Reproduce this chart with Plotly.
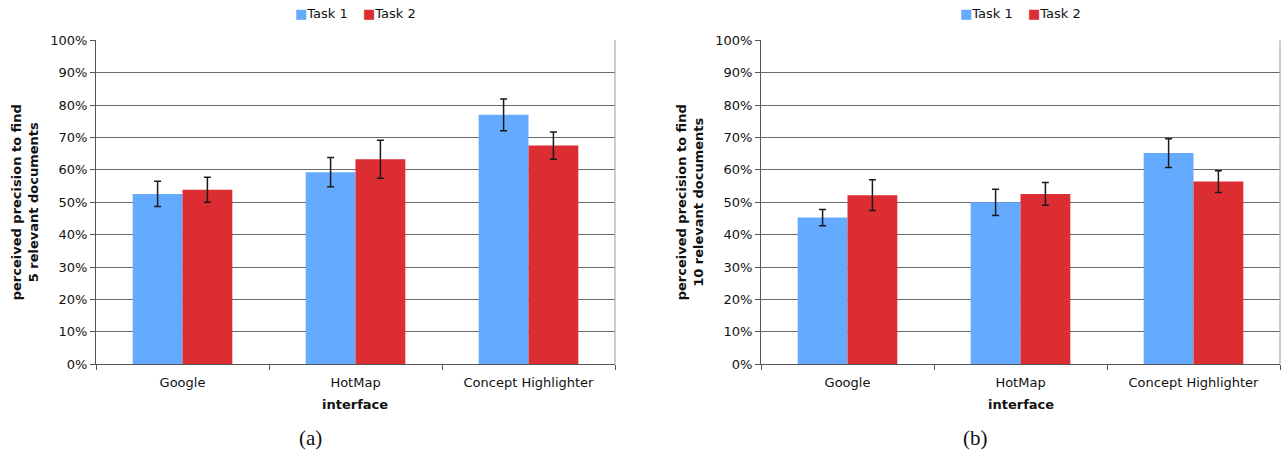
import plotly.graph_objects as go

# Interfaces compared and their perceived precision (%), with error-bar half widths
interfaces = ["Google", "HotMap", "Concept Highlighter"]

task1_5 = [52.6, 59.3, 77.0]
task1_5_err = [3.9, 4.5, 4.9]
task2_5 = [53.9, 63.3, 67.5]
task2_5_err = [3.85, 5.85, 4.2]

task1_10 = [45.3, 50.0, 65.2]
task1_10_err = [2.5, 4.05, 4.45]
task2_10 = [52.2, 52.6, 56.4]
task2_10_err = [4.75, 3.5, 3.35]

series_names = ["Task 1", "Task 2"]

y_ticks = list(range(0, 101, 10))
y_tick_text = [f"{v}%" for v in y_ticks]

BLUE = "#64AAFF"
RED = "#DC2D33"
FONT = "DejaVu Sans"
FS = 13

W, H = 1281, 457

fig = go.Figure()


def add_pair(xa, ya, t1, e1, t2, e2):
    for name, vals, errs, color in ((series_names[0], t1, e1, BLUE),
                                    (series_names[1], t2, e2, RED)):
        fig.add_trace(go.Bar(
            x=interfaces, y=vals, name=name, xaxis=xa, yaxis=ya, showlegend=False,
            marker=dict(color=color, line=dict(width=0)),
            error_y=dict(type="data", array=errs, visible=True,
                         color="#1a1a1a", thickness=1.5, width=3.5),
        ))


add_pair("x", "y", task1_5, task1_5_err, task2_5, task2_5_err)
add_pair("x2", "y2", task1_10, task1_10_err, task2_10, task2_10_err)

y_dom = [92.7 / H, 416.7 / H]
x1_dom = [96 / W, 615 / W]
x2_dom = [761 / W, 1280 / W]

xaxis_style = dict(
    type="category", showgrid=False, showline=True, linecolor="#555555", linewidth=1,
    ticks="outside", tickson="boundaries", ticklen=5, tickcolor="#555555",
    ticklabelstandoff=6,
    tickfont=dict(family=FONT, size=FS, color="#111111"), zeroline=False,
)
yaxis_style = dict(
    range=[0, 100], tickvals=y_ticks, ticktext=y_tick_text,
    showgrid=True, gridcolor="#6a6a6a", gridwidth=1,
    showline=True, linecolor="#555555", linewidth=1,
    ticks="outside", ticklen=5, tickcolor="#555555",
    tickfont=dict(family=FONT, size=FS, color="#111111"), zeroline=False,
)

fig.update_layout(
    width=W, height=H,
    margin=dict(l=0, r=0, t=0, b=0, autoexpand=False),
    paper_bgcolor="white", plot_bgcolor="white",
    barmode="group", bargap=0.424, bargroupgap=0,
    xaxis=dict(domain=x1_dom, anchor="y", **xaxis_style),
    yaxis=dict(domain=y_dom, anchor="x", **yaxis_style),
    xaxis2=dict(domain=x2_dom, anchor="y2", **xaxis_style),
    yaxis2=dict(domain=y_dom, anchor="x2", **yaxis_style),
)

# Light right-hand border of each plot area
for xr, yr in (("x domain", "y domain"), ("x2 domain", "y2 domain")):
    fig.add_shape(type="line", xref=xr, yref=yr, x0=1, x1=1, y0=0, y1=1,
                  line=dict(color="#A8A8A8", width=1.2), layer="above")

annotations = []
for dom, ylabel, caption in (
    (x1_dom, "perceived precision to find<br>5 relevant documents", "(a)"),
    (x2_dom, "perceived precision to find<br>10 relevant documents", "(b)"),
):
    cx = sum(dom) / 2
    # Key for the two series: coloured square followed by the name
    for name, color, anchor, dx in ((series_names[0], BLUE, "right", -5.5),
                                    (series_names[1], RED, "left", 5.5)):
        annotations.append(dict(
            text=f"<span style='color:{color}'>■</span>{name}",
            x=cx + dx / W, y=1 - 13 / H, xref="paper", yref="paper",
            showarrow=False, xanchor=anchor, yanchor="middle",
            font=dict(family=FONT, size=FS, color="#111111"),
        ))
    annotations.append(dict(
        text=f"<b>{ylabel}</b>", x=dom[0] - 71 / W, y=sum(y_dom) / 2,
        xref="paper", yref="paper", textangle=-90, showarrow=False,
        xanchor="center", yanchor="middle",
        font=dict(family=FONT, size=FS, color="#111111"),
    ))
    annotations.append(dict(
        text="<b>interface</b>", x=cx, y=1 - 404 / H, xref="paper", yref="paper",
        showarrow=False, xanchor="center", yanchor="middle",
        font=dict(family=FONT, size=FS, color="#111111"),
    ))
    annotations.append(dict(
        text=caption, x=cx - 45 / W, y=1 - 438 / H, xref="paper", yref="paper",
        showarrow=False, xanchor="center", yanchor="middle",
        font=dict(family="Liberation Serif", size=21, color="#111111"),
    ))
fig.update_layout(annotations=annotations)

fig.write_html("out.html")
